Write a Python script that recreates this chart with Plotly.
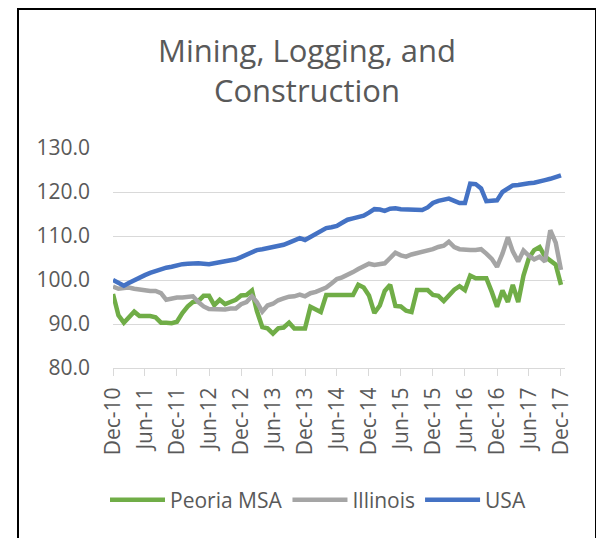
import plotly.graph_objects as go
import pandas as pd

months = pd.date_range("2010-12-01", "2017-12-01", freq="MS").strftime("%Y-%m-%d").tolist()

peoria = [96.8, 92.0, 90.3, 91.5, 92.8, 91.8, 91.8, 91.8, 91.5, 90.3,
          90.3, 90.2, 90.5, 92.5, 94.0, 95.0, 95.2, 96.4, 96.4, 94.3,
          95.5, 94.5, 95.0, 95.5, 96.5, 96.6, 97.6, 93.0, 89.3, 89.0,
          87.8, 89.0, 89.2, 90.3, 89.0, 89.0, 89.0, 93.9, 93.2, 92.7,
          96.6, 96.6, 96.6, 96.6, 96.6, 96.6, 98.9, 98.3, 96.5, 92.5,
          94.2, 97.5, 98.9, 94.1, 94.0, 93.0, 92.7, 97.7, 97.7, 97.7,
          96.6, 96.4, 95.2, 96.5, 97.8, 98.6, 97.7, 101.0, 100.4, 100.4,
          100.4, 97.3, 93.9, 97.6, 95.0, 98.9, 95.0, 101.0, 105.0, 106.8,
          107.5, 105.3, 104.5, 103.5, 98.9]

illinois = [98.5, 98.0, 98.2, 98.3, 98.0, 97.8, 97.8, 97.5, 97.5, 97.0,
            95.5, 95.8, 96.0, 96.0, 96.1, 96.3, 95.0, 94.0, 93.4, 93.3,
            93.2, 93.3, 93.5, 93.5, 94.5, 95.0, 96.3, 95.0, 92.8, 94.2,
            94.6, 95.4, 95.8, 96.2, 96.3, 96.7, 96.3, 97.0, 97.3, 97.8,
            98.3, 99.2, 100.2, 100.6, 101.1, 101.8, 102.5, 103.1, 103.7, 103.4,
            103.6, 103.8, 105.0, 106.2, 105.6, 105.3, 105.8, 106.1, 106.3, 106.8,
            107.0, 107.5, 107.8, 108.7, 107.5, 107.0, 106.8, 106.8, 106.8, 107.0,
            106.0, 104.8, 103.0, 106.0, 109.7, 106.5, 104.2, 106.7, 105.5, 104.7,
            105.3, 104.2, 111.3, 108.5, 102.3]

usa = [100.0, 99.2, 98.7, 99.3, 100.0, 100.6, 101.1, 101.6, 102.0, 102.6,
       102.8, 103.0, 103.4, 103.6, 103.7, 103.8, 103.8, 103.7, 103.6, 103.8,
       104.0, 104.3, 104.5, 104.7, 105.2, 105.7, 106.4, 106.8, 107.0, 107.2,
       107.5, 107.7, 108.0, 108.5, 109.0, 109.5, 109.1, 109.8, 110.3, 111.0,
       111.8, 112.0, 112.3, 113.0, 113.7, 114.0, 114.3, 114.6, 115.3, 116.1,
       116.0, 115.7, 116.2, 116.3, 116.1, 116.0, 116.0, 116.0, 115.9, 116.5,
       117.5, 118.0, 118.2, 118.5, 118.0, 117.5, 117.5, 121.9, 121.8, 120.8,
       117.9, 118.0, 118.1, 120.0, 120.9, 121.5, 121.6, 121.9, 122.0, 122.1,
       122.3, 122.7, 123.0, 123.4, 123.8]

series_names = ["Peoria MSA", "Illinois", "USA"]
series_values = [peoria, illinois, usa]
series_colors = ["#70AD47", "#A5A5A5", "#4472C4"]

OFF = 8  # page body margin
W, H = 604 - OFF, 538 - OFF
L, T = 113 - OFF, 148 - OFF
PW, PH = 452, 220
R, B = W - L - PW, H - T - PH


def px_x(p):
    return (p - OFF - L) / PW


def px_y(p):
    return (T + PH - (p - OFF)) / PH


FONT = "'Open Sans', sans-serif"
TXT = "#595959"

fig = go.Figure()
for name, vals, col in zip(series_names, series_values, series_colors):
    fig.add_trace(go.Scatter(x=months, y=vals, mode="lines", name=name,
                             line=dict(color=col, width=4.5)))

fig.update_layout(
    width=W, height=H,
    margin=dict(l=L, r=R, t=T, b=B),
    paper_bgcolor="white", plot_bgcolor="white",
    font=dict(family=FONT, color=TXT, size=20),
    showlegend=True,
    legend=dict(orientation="h", x=px_x(318), xanchor="center",
                y=px_y(500), yanchor="middle",
                font=dict(size=21, color=TXT, family=FONT),
                bgcolor="rgba(0,0,0,0)", itemwidth=55),
    xaxis=dict(type="date", range=["2010-12-01", "2017-12-24"],
               tick0="2010-12-01", dtick="M6", tickformat="%b-%y",
               tickangle=-90, showgrid=False, showline=True,
               linecolor="#D9D9D9", linewidth=1,
               ticks="outside", ticklen=7, tickcolor="#D9D9D9",
               tickfont=dict(size=21, color=TXT, family=FONT),
               ticklabelstandoff=3, zeroline=False),
    yaxis=dict(range=[80, 130], dtick=10, tick0=80, tickformat=".1f",
               showgrid=True, gridcolor="#D9D9D9", gridwidth=1,
               showline=False, zeroline=False,
               tickfont=dict(size=21, color=TXT, family=FONT),
               ticklabelstandoff=22),
    shapes=[
        dict(type="rect", xref="paper", yref="paper",
             x0=px_x(18), x1=px_x(596), y0=px_y(560), y1=px_y(OFF + 1),
             line=dict(color="black", width=2), fillcolor="rgba(0,0,0,0)",
             layer="above"),
    ],
    annotations=[
        dict(text="Mining, Logging, and<br>Construction", xref="paper", yref="paper",
             x=px_x(307), y=px_y(70), xanchor="center", yanchor="middle",
             showarrow=False, font=dict(size=31, color=TXT, family=FONT)),
    ],
)

fig.write_html("out.html")
